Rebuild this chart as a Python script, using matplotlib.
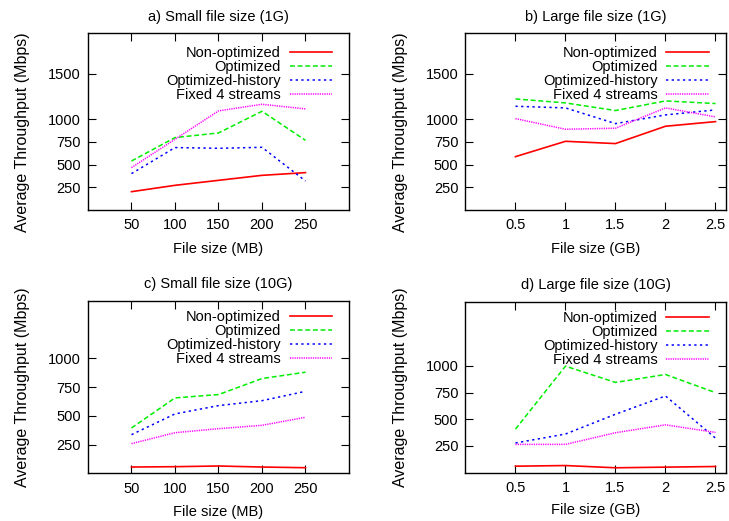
import matplotlib
matplotlib.use("Agg")
from matplotlib import pyplot as plt

plt.rcParams['font.family'] = ['Liberation Sans', 'DejaVu Sans']
plt.rcParams['font.size'] = 10.5

# x values
sizes_mb = [50, 100, 150, 200, 250]
sizes_gb = [0.5, 1, 1.5, 2, 2.5]
gb_labels = ["0.5", "1", "1.5", "2", "2.5"]

series_names = ["Non-optimized", "Optimized", "Optimized-history", "Fixed 4 streams"]

# a) small files, 1G
a_nonopt = [202, 272, 327, 382, 412]
a_opt = [540, 798, 849, 1088, 768]
a_hist = [401, 688, 680, 691, 320]
a_fixed = [467, 779, 1092, 1165, 1114]

# b) large files, 1G
b_nonopt = [588, 757, 732, 923, 974]
b_opt = [1224, 1180, 1096, 1202, 1173]
b_hist = [1143, 1125, 952, 1048, 1103]
b_fixed = [1007, 890, 901, 1125, 1026]

# c) small files, 10G
c_nonopt = [56, 59, 65, 56, 50]
c_opt = [395, 656, 685, 824, 879]
c_hist = [337, 517, 589, 632, 713]
c_fixed = [259, 354, 389, 418, 488]

# d) large files, 10G
d_nonopt = [61, 67, 46, 52, 58]
d_opt = [408, 997, 845, 919, 749]
d_hist = [278, 362, 547, 718, 324]
d_fixed = [265, 265, 374, 448, 377]

# gnuplot-like line types
styles = [
    dict(color='#ff0000', lw=1.2, ls='-'),
    dict(color='#00ee00', lw=1.1, dashes=(3.2, 1.8)),
    dict(color='#0000ff', lw=1.1, dashes=(1.5, 2.2)),
    dict(color='#ff00ff', lw=1.1, dashes=(0.8, 0.7)),
]


def plot_me(rect, title, x, ys, xlabel, xticks, xticklabels, xlim, yticks, ylim, leg_y, ylab_y):
    ax = fig.add_axes(rect)
    for y, name, st in zip(ys, series_names, styles):
        ax.plot(x, y, label=name, **st)
    ax.set_xlim(xlim)
    ax.set_ylim(ylim)
    ax.set_xticks(xticks)
    ax.set_xticklabels(xticklabels)
    ax.set_yticks(yticks)
    ax.tick_params(direction='in', length=6, width=0.8, top=True, right=True)
    ax.tick_params(axis='x', pad=6)
    ax.tick_params(axis='y', pad=5)
    for sp in ax.spines.values():
        sp.set_linewidth(1.0)
    ax.set_title(title, fontsize=10.5, pad=9)
    ax.set_xlabel(xlabel)
    ax.set_ylabel("Average Throughput (Mbps)", fontsize=11.5)
    ax.yaxis.set_label_coords(-0.222, ylab_y)
    ax.xaxis.set_label_coords(0.5, -0.18)
    ax.xaxis.label.set_va('top')
    ax.legend(loc='upper right', bbox_to_anchor=(0.935, leg_y), markerfirst=False,
              frameon=False, borderaxespad=0, borderpad=0, handlelength=2.9,
              handletextpad=0.6, labelspacing=0.0, fontsize=10.5)
    return ax


fig = plt.figure(figsize=(7.29, 5.21), dpi=100)

plot_me([0.1207, 0.5969, 0.358, 0.3397], "a) Small file size (1G)", sizes_mb,
        [a_nonopt, a_opt, a_hist, a_fixed], "File size (MB)",
        sizes_mb, [str(v) for v in sizes_mb], (0, 300),
        [250, 500, 750, 1000, 1500], (0, 1950), 0.925, 0.44)
plot_me([0.6385, 0.5969, 0.3567, 0.3397], "b) Large file size (1G)", sizes_gb,
        [b_nonopt, b_opt, b_hist, b_fixed], "File size (GB)",
        sizes_gb, gb_labels, (0, 2.6),
        [250, 500, 750, 1000, 1500], (0, 1950), 0.925, 0.44)
plot_me([0.1207, 0.0912, 0.358, 0.3317], "c) Small file size (10G)", sizes_mb,
        [c_nonopt, c_opt, c_hist, c_fixed], "File size (MB)",
        sizes_mb, [str(v) for v in sizes_mb], (0, 300),
        [250, 500, 750, 1000], (0, 1500), 0.944, 0.5)
plot_me([0.6385, 0.0927, 0.3567, 0.3282], "d) Large file size (10G)", sizes_gb,
        [d_nonopt, d_opt, d_hist, d_fixed], "File size (GB)",
        sizes_gb, gb_labels, (0, 2.6),
        [250, 500, 750, 1000], (0, 1600), 0.944, 0.5)

fig.savefig("out.png", dpi=100)
